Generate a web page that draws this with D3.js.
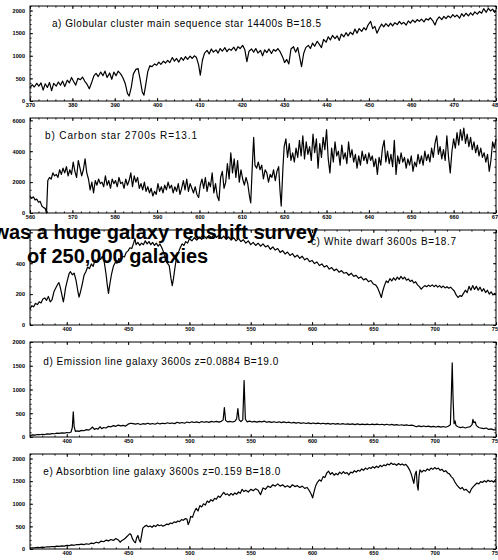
<!DOCTYPE html>
<html>
<head>
<meta charset="utf-8">
<script src="https://cdn.jsdelivr.net/npm/d3@7"></script>
<style>
body { margin: 0; background: #fff; }
svg { display: block; }
</style>
</head>
<body>
<div id="chart"></div>
<script>
// spectra: [wavelength (nm), counts]
var specA = [[370,290],[370.5,360],[371,310],[371.6,390],[372.1,330],[372.6,400],[373.1,240],[373.6,380],[374.1,300],[374.6,410],
  [375.1,230],[375.6,390],[376.2,330],[376.7,420],[377.2,350],[377.7,440],[378.2,320],[378.8,460],[379.3,400],[379.8,520],
  [380.3,430],[380.8,350],[381.3,500],[381.9,470],[382.4,530],[382.9,440],[383.4,380],[384,270],[384.6,420],[385.1,560],
  [385.6,610],[386.1,540],[386.7,640],[387.2,560],[387.7,660],[388.2,520],[388.8,620],[389.3,480],[389.8,640],[390.3,560],
  [390.8,660],[391.4,600],[391.9,520],[392.5,380],[393,170],[393.4,110],[393.9,300],[394.4,600],[395,700],[395.5,720],
  [396,480],[396.5,200],[396.9,130],[397.3,350],[397.8,650],[398.3,780],[398.8,760],[399.4,820],[399.9,790],[400.4,860],
  [400.9,810],[401.5,880],[402,840],[402.5,900],[403,850],[403.6,960],[404.1,880],[404.6,940],[405.1,860],[405.7,960],
  [406.2,900],[406.7,980],[407.2,920],[407.8,990],[408.3,940],[408.8,1000],[409.3,960],[409.8,800],[410.2,570],[410.7,900],
  [411.2,1060],[411.8,1120],[412.3,1040],[412.8,1150],[413.3,1080],[413.9,1130],[414.4,1060],[414.9,1160],[415.4,1100],[416,1180],
  [416.5,1090],[417,1150],[417.5,1120],[418.1,1190],[418.6,1110],[419.1,1200],[419.6,1160],[420.2,1230],[420.7,1140],[421.2,870],
  [421.7,1100],[422.3,1150],[422.8,1080],[423.3,1160],[423.8,1060],[424.4,1120],[424.9,1000],[425.4,1130],[425.9,1070],[426.4,1150],
  [427,1050],[427.5,1140],[428,1100],[428.5,1160],[429.1,1080],[429.6,980],[430.1,850],[430.6,920],[431.1,820],[431.6,1150],
  [432.2,1200],[432.7,1080],[433.2,1180],[433.7,950],[434.1,760],[434.6,1050],[435.1,1180],[435.7,1230],[436.2,1160],[436.7,1280],
  [437.2,1210],[437.8,1320],[438.3,1250],[438.8,1180],[439.3,1360],[439.9,1300],[440.4,1420],[440.9,1350],[441.4,1450],[442,1380],
  [442.5,1440],[443,1340],[443.5,1480],[444.1,1420],[444.6,1510],[445.1,1440],[445.6,1520],[446.2,1470],[446.7,1590],[447.2,1500],
  [447.7,1600],[448.3,1540],[448.8,1620],[449.3,1570],[449.8,1680],[450.4,1760],[450.9,1600],[451.4,1650],[451.9,1500],[452.5,1620],
  [453,1700],[453.5,1640],[454,1710],[454.6,1650],[455.1,1720],[455.6,1660],[456.1,1730],[456.7,1690],[457.2,1760],[457.7,1700],
  [458.2,1740],[458.8,1680],[459.3,1770],[459.8,1720],[460.3,1790],[460.9,1740],[461.4,1800],[461.9,1760],[462.4,1810],[463,1750],
  [463.5,1820],[464,1790],[464.5,1840],[465.1,1770],[465.6,1680],[466.1,1800],[466.6,1860],[467.2,1800],[467.7,1870],[468.2,1820],
  [468.7,1880],[469.3,1840],[469.8,1910],[470.3,1860],[470.8,1900],[471.4,1830],[471.9,1930],[472.4,1870],[472.9,1940],[473.5,1880],
  [474,1950],[474.5,1900],[475,1970],[475.6,1920],[476.1,1980],[476.6,1940],[477.1,2040],[477.7,1960],[478.2,2050],[478.7,1990],
  [479.2,2030],[479.7,1960],[480,2000]];

var specB = [[560,1100],[560.4,950],[560.8,1050],[561.2,850],[561.6,900],[562,700],[562.4,750],[562.8,450],[563.2,350],[563.6,300],
  [563.9,0],[564.2,2100],[564.6,2300],[565,2200],[565.4,2600],[565.8,2400],[566.2,2500],[566.6,2300],[567,2800],[567.4,2500],
  [567.8,2900],[568.2,2600],[568.6,3000],[569,2400],[569.4,2800],[569.8,2500],[570.2,3300],[570.6,2700],[571,2300],[571.4,3400],
  [571.8,2900],[572.2,2400],[572.6,2800],[573,3500],[573.4,2600],[573.8,2200],[574.2,1500],[574.6,2000],[575,1300],[575.4,2100],
  [575.8,1800],[576.2,2200],[576.6,1900],[577,2000],[577.4,1700],[577.8,2400],[578.2,1800],[578.6,2100],[579,1600],[579.4,2200],
  [579.8,1900],[580.2,2100],[580.6,1700],[581,2300],[581.4,1900],[581.8,2000],[582.2,1600],[582.6,2200],[583,1800],[583.4,2100],
  [583.8,2600],[584.2,1700],[584.6,2400],[585,2000],[585.4,2300],[585.8,1600],[586.2,1900],[586.6,1500],[587,2000],[587.4,1400],
  [587.8,1700],[588.2,1300],[588.6,1600],[589,1100],[589.4,1400],[589.8,1200],[590.2,1900],[590.6,1400],[591,1700],[591.4,1300],
  [591.8,1800],[592.2,1500],[592.6,2000],[593,1600],[593.4,1800],[593.8,1300],[594.2,1700],[594.6,1400],[595,1900],[595.4,1200],
  [595.8,1600],[596.2,2100],[596.6,1500],[597,2200],[597.4,1400],[597.8,1900],[598.2,1600],[598.6,1300],[599,1700],[599.4,1200],
  [599.8,1000],[600.2,1800],[600.6,2200],[601,1600],[601.4,2300],[601.8,1400],[602.2,2000],[602.6,1700],[603,2600],[603.4,1300],
  [603.8,1900],[604.2,1100],[604.6,800],[605,2300],[605.4,2700],[605.8,1600],[606.2,2000],[606.6,3200],[607,2200],[607.4,3900],
  [607.8,2600],[608.2,3500],[608.6,2300],[609,3400],[609.4,2000],[609.8,2800],[610.2,2200],[610.6,1800],[611,2300],[611.4,1900],
  [611.8,1100],[612.1,650],[612.5,3200],[612.8,4900],[613.1,3100],[613.5,2900],[613.9,3300],[614.3,2800],[614.7,3100],[615.1,2200],
  [615.5,2800],[615.9,2600],[616.3,2000],[616.7,2500],[617.1,2300],[617.5,2800],[617.9,2100],[618.3,2700],[618.7,3000],[619,1500],
  [619.3,450],[619.7,2900],[620,4300],[620.4,4800],[620.8,3600],[621.2,4500],[621.6,3400],[622,3900],[622.4,3300],[622.8,4200],
  [623.2,3600],[623.6,4700],[624,3700],[624.4,5000],[624.8,3500],[625.2,4600],[625.6,3800],[626,4300],[626.4,3400],[626.8,5100],
  [627.2,3900],[627.6,4800],[628,2900],[628.4,4500],[628.8,3600],[629.2,4900],[629.6,4100],[630,5400],[630.4,3500],[630.8,2600],
  [631.2,4200],[631.6,3300],[632,4600],[632.4,3700],[632.8,4000],[633.2,3100],[633.6,4400],[634,3500],[634.4,3900],[634.8,3200],
  [635.2,4600],[635.6,3600],[636,4100],[636.4,3300],[636.8,3800],[637.2,2900],[637.6,3700],[638,3100],[638.4,4000],[638.8,3400],
  [639.2,3800],[639.6,3200],[640,3900],[640.4,3400],[640.8,3700],[641.2,3000],[641.6,3500],[642,2500],[642.4,3600],[642.8,3100],
  [643.2,4200],[643.6,4700],[644,3300],[644.4,4000],[644.8,3200],[645.2,3800],[645.6,3000],[646,4700],[646.4,2500],[646.8,3700],
  [647.2,3200],[647.6,3900],[648,3300],[648.4,3600],[648.8,2900],[649.2,3500],[649.6,3100],[650,3700],[650.4,2700],[650.8,3300],
  [651.2,3000],[651.6,3800],[652,3200],[652.4,3700],[652.8,3100],[653.2,4000],[653.6,3400],[654,3800],[654.4,3300],[654.8,4200],
  [655.2,3600],[655.6,4500],[656,5000],[656.4,3800],[656.8,4300],[657.2,3500],[657.6,4100],[658,3400],[658.4,5000],[658.8,3600],
  [659.2,2600],[659.6,4000],[660,4800],[660.4,4200],[660.8,5200],[661.2,4400],[661.6,5400],[662,4700],[662.4,5500],[662.8,4500],
  [663.2,5100],[663.6,4300],[664,4900],[664.4,4100],[664.8,4600],[665.2,3900],[665.6,4400],[666,3700],[666.4,4200],[666.8,3600],
  [667.2,3900],[667.6,3300],[668,3800],[668.4,2700],[668.8,3400],[669.2,4600],[669.6,4200],[670,4800]];

var specC = [[370,104],[371.5,125],[373,118],[374.5,140],[376,132],[377.5,150],[379,143],[380.5,168],[382,175],[383.5,160],
  [385,185],[386.5,150],[388,165],[389.5,215],[391,240],[392.5,262],[393.5,275],[394.5,250],[395.5,215],[396.5,175],
  [397.2,150],[398,185],[399,240],[400.5,290],[402,335],[403,345],[404.5,325],[406,335],[407.5,290],[409,220],
  [410,180],[411,210],[412.5,260],[414,320],[415.5,345],[417,375],[418.5,365],[420,395],[421.5,380],[423,420],
  [424.5,410],[426,435],[427.5,425],[429,445],[430.5,410],[432,330],[433,260],[434,205],[435,260],[436.5,330],
  [438,380],[439.5,405],[441,400],[442.5,430],[444,420],[445.5,445],[447,440],[448.5,470],[450,480],[451.5,500],
  [453,495],[454.5,530],[455.6,560],[456.5,520],[458,535],[459.5,515],[461,530],[462.5,520],[464,545],[465.5,525],
  [467,540],[468.5,520],[470,535],[471.5,515],[473,530],[474.5,510],[476,525],[477.5,500],[479,470],[480.5,420],
  [482,400],[483.5,385],[485,300],[486,255],[487,300],[488,360],[489.5,440],[491,470],[492.5,500],[494,525],
  [495.5,515],[497,540],[498.5,530],[500,558],[502,545],[504,565],[506,550],[508,570],[510,555],[512,575],
  [514,560],[516,580],[518,565],[520,585],[522,568],[524,580],[526,560],[528,575],[530,555],[532,570],
  [534,550],[536,565],[538,545],[540,560],[542,540],[544,552],[546,530],[548,545],[550,520],[552,535],
  [554,515],[556,530],[558,510],[560,525],[562,505],[564,515],[566,490],[568,505],[570,485],[572,495],
  [574,470],[576,482],[578,460],[580,472],[582,450],[584,462],[586,440],[588,452],[590,432],[592,445],
  [594,422],[596,432],[598,410],[600,418],[602,398],[604,408],[606,385],[608,395],[610,375],[612,385],
  [614,362],[616,372],[618,352],[620,362],[622,342],[624,352],[626,335],[628,340],[630,322],[632,335],
  [634,315],[636,322],[638,302],[640,312],[642,292],[644,300],[646,280],[648,288],[650,265],[652,258],
  [653.5,240],[655,210],[656.5,178],[657.5,215],[659,255],[660.5,285],[662,275],[663.5,300],[665,285],[666.5,305],
  [668,290],[669.5,310],[671,295],[672.5,315],[674,298],[675.5,310],[677,290],[678.5,298],[680,282],[681.5,290],
  [683,272],[684.5,280],[686,260],[687.5,248],[689,232],[690.5,245],[692,255],[693.5,248],[695,258],[696.5,250],
  [698,260],[699.5,248],[701,258],[702.5,245],[704,255],[705.5,242],[707,252],[708.5,240],[710,248],[711.5,238],
  [713,245],[714.5,232],[716,220],[717.5,195],[719,178],[720.5,190],[722,185],[723.5,205],[725,225],[726.5,210],
  [728,250],[729.5,225],[731,255],[732.5,230],[734,250],[735.5,225],[737,245],[738.5,218],[740,235],[741.5,210],
  [743,225],[744.5,200],[746,215],[747.5,195],[749,205],[750,198]];

var specD = [[370,30],[372,45],[374,38],[376,52],[378,48],[380,58],[382,52],[384,65],[386,60],[388,72],
  [390,68],[392,80],[394,75],[396,88],[398,82],[400,95],[402,90],[403.5,105],[404.5,200],[405.3,530],
  [406,220],[407,120],[408.5,130],[410,118],[412,140],[414,132],[416,155],[418,145],[419.5,175],[421,210],
  [422.5,160],[424,180],[425.5,165],[427,215],[428.5,175],[430,200],[432,190],[434,225],[436,215],[438,240],
  [440,225],[442,250],[444,235],[446,245],[448,230],[450,270],[452,290],[454,280],[456,270],[458,285],
  [460,262],[462,280],[464,270],[466,290],[468,272],[470,285],[472,268],[474,295],[476,275],[478,290],
  [480,280],[482,300],[484,285],[486,295],[488,282],[490,310],[492,292],[494,305],[496,290],[498,315],
  [500,300],[502,320],[504,305],[506,318],[508,300],[510,325],[512,310],[514,322],[516,308],[518,330],
  [520,315],[522,328],[524,312],[526,330],[527.5,360],[528.5,620],[529.5,350],[531,318],[533,330],[535,315],
  [537,330],[538.5,380],[539.5,600],[540.5,360],[542,325],[543.5,360],[544.6,1190],[545.6,380],[547,320],[549,335],
  [551,315],[553,330],[555,312],[557,328],[559,318],[561,335],[563,310],[565,325],[567,308],[569,322],
  [571,305],[573,320],[575,302],[577,318],[579,300],[581,312],[583,295],[585,308],[587,292],[589,305],
  [591,288],[593,300],[595,285],[597,298],[599,282],[601,295],[603,280],[605,292],[607,278],[609,290],
  [611,275],[613,288],[615,272],[617,285],[619,270],[621,282],[623,268],[625,280],[627,268],[629,278],
  [631,265],[633,276],[635,262],[637,275],[639,262],[641,272],[643,260],[645,270],[647,258],[649,270],
  [651,262],[653,272],[655,258],[657,268],[659,255],[661,268],[663,252],[665,265],[667,250],[669,262],
  [671,248],[673,258],[675,245],[677,255],[679,242],[681,250],[683,238],[685,215],[687,235],[689,220],
  [691,232],[693,218],[695,228],[697,212],[699,222],[701,210],[703,225],[705,208],[707,222],[709,205],
  [711,225],[712.8,260],[713.6,900],[714.3,1560],[715,800],[715.8,280],[716.6,340],[717.4,240],[719,215],[721,198],
  [723,210],[725,190],[727,205],[729,220],[730.5,260],[731.2,370],[732,300],[733,320],[734,240],[736,200],
  [738,185],[740,178],[742,190],[744,160],[746,170],[748,150],[750,148]];

var specE = [[370,20],[372,28],[374,24],[376,35],[378,30],[380,42],[382,38],[384,50],[386,45],[388,55],
  [390,52],[392,62],[394,58],[396,70],[398,65],[400,80],[402,75],[404,90],[406,82],[408,100],
  [410,95],[412,108],[414,98],[416,115],[418,105],[420,130],[422,120],[424,150],[426,135],[428,175],
  [430,160],[432,195],[434,180],[436,210],[438,190],[440,230],[442,200],[443.5,150],[445,190],[447,220],
  [448.5,260],[450,300],[451.5,340],[452.5,310],[453.5,230],[455,160],[456,140],[457,250],[458,300],[459,200],
  [460,150],[461,300],[462,460],[463.5,500],[465,525],[466.5,490],[468,510],[469.5,480],[471,520],[472.5,495],
  [474,540],[475.5,515],[477,530],[478.5,505],[480,525],[481.5,550],[483,540],[484.5,575],[486,560],[487.5,600],
  [489,585],[490.5,620],[492,605],[493.5,650],[495,635],[496.5,670],[498,660],[499,540],[500,600],[501,720],
  [502.5,700],[504,820],[505.5,900],[507,840],[508.5,960],[510,930],[511.5,1000],[513,970],[514.5,1060],[516,1030],
  [517.5,1090],[519,1060],[520.5,1120],[522,1100],[523.5,1170],[525,1140],[526.5,1200],[528,1250],[529.5,1200],[531,1220],
  [532.5,1180],[534,1230],[535.5,1190],[537,1240],[538.5,1210],[540,1260],[541.5,1230],[543,1320],[544.5,1270],[546,1300],
  [548,1260],[550,1320],[552,1290],[554,1330],[556,1300],[558,1200],[560,1350],[562,1320],[564,1390],[566,1360],
  [568,1420],[570,1390],[572,1440],[574,1390],[576,1420],[578,1370],[580,1400],[582,1360],[584,1420],[586,1380],
  [588,1400],[590,1360],[592,1390],[594,1340],[596,1360],[598,1280],[599.5,1200],[600.5,1130],[601.5,1250],[603,1400],
  [604.5,1480],[606,1530],[607.5,1500],[609,1600],[610.5,1580],[612,1680],[613.5,1720],[615,1650],[616.5,1690],[618,1630],
  [619.5,1670],[621,1640],[622.5,1700],[624,1660],[625.5,1710],[627,1670],[628.5,1690],[630,1640],[631.5,1700],[633,1680],
  [634.5,1730],[636,1700],[637.5,1740],[639,1720],[640.5,1770],[642,1740],[643.5,1790],[645,1760],[646.5,1800],[648,1780],
  [649.5,1820],[651,1790],[652.5,1830],[654,1800],[655.5,1850],[657,1820],[658.5,1860],[660,1840],[661.5,1880],[663,1860],
  [664.5,1900],[666,1870],[667.5,1880],[669,1850],[670.5,1890],[672,1860],[673.5,1880],[675,1850],[676.5,1870],[678,1820],
  [679.5,1750],[681,1650],[682,1550],[683,1450],[684,1650],[685,1720],[685.8,1400],[686.5,1300],[687.2,1600],[688,1750],
  [689.5,1700],[691,1740],[692.5,1720],[694,1770],[695.5,1740],[697,1790],[698.5,1760],[700,1800],[701.5,1770],[703,1790],
  [704.5,1740],[706,1760],[707.5,1710],[709,1730],[710.5,1680],[712,1660],[713.5,1600],[715,1560],[716.5,1480],[718,1420],
  [719.5,1370],[721,1330],[722.5,1360],[724,1300],[725.5,1320],[727,1280],[728.5,1240],[730,1330],[731.5,1380],[733,1420],
  [734.5,1460],[736,1440],[737.5,1490],[739,1470],[740.5,1510],[742,1480],[743.5,1520],[745,1490],[746.5,1510],[748,1480],
  [749.5,1530],[750,1540]];

// tick values
var xTicksA = [370,380,390,400,410,420,430,440,450,460,470,480];
var xTicksB = [560,570,580,590,600,610,620,630,640,650,660,670];
var xTicksWide = [400,450,500,550,600,650,700,750];
var yTicksA = [0,500,1000,1500,2000];
var yTicksB = [0,2000,4000,6000];
var yTicksC = [0,200,400,600];
var yLabelsC = [0,200,400];
var yTicksD = [0,500,1000,1500,2000];

var titles = [
  "a) Globular cluster main sequence star 14400s B=18.5",
  "b) Carbon star 2700s R=13.1",
  "c) White dwarf 3600s B=18.7",
  "d) Emission line galaxy 3600s z=0.0884 B=19.0",
  "e) Absorbtion line galaxy 3600s z=0.159 B=18.0"
];
var overlay = ["was a huge galaxy redshift survey", "of 250,000 galaxies"];

var w = 498, h = 560;
var left = 30, right = 496, ph = 95;
var tickFont = "'Liberation Sans', Arial, sans-serif";

var svg = d3.select("#chart").append("svg").attr("width", w).attr("height", h);
svg.append("rect").attr("width", w).attr("height", h).attr("fill", "#fff");

var panels = [
  {data: specA, top: 6, xd: [370,480], yd: [0,2100], xt: xTicksA, xm: 2, yt: yTicksA, yl: yTicksA, ym: 100,
   title: titles[0], tx: 52, ty: 26.5, tl: 269},
  {data: specB, top: 118, xd: [560,670], yd: [0,6150], xt: xTicksB, xm: 2, yt: yTicksB, yl: yTicksB, ym: 500,
   title: titles[1], tx: 45, ty: 138.7, tl: 152},
  {data: specC, top: 230, xd: [370,750], yd: [0,615], xt: xTicksWide, xm: 10, yt: yTicksC, yl: yLabelsC, ym: 50,
   title: titles[2], tx: 311, ty: 244.7, tl: 145},
  {data: specD, top: 342, xd: [370,750], yd: [0,2000], xt: xTicksWide, xm: 10, yt: yTicksD, yl: yTicksD, ym: 100,
   title: titles[3], tx: 43.3, ty: 365.3, tl: 235},
  {data: specE, top: 454, xd: [370,750], yd: [0,2100], xt: xTicksWide, xm: 10, yt: yTicksA, yl: yTicksA, ym: 100,
   title: titles[4], tx: 43.3, ty: 474.7, tl: 237}
];

function styleAxis(g) {
  g.select(".domain").remove();
  g.attr("font-family", tickFont).attr("font-size", "5.6px").attr("font-weight", "bold");
  g.selectAll("line").attr("stroke", "#000").attr("stroke-width", 0.9);
}

function drawPanel(p) {
  var x = d3.scaleLinear().domain(p.xd).range([left, right]);
  var y = d3.scaleLinear().domain(p.yd).range([p.top + ph, p.top]);
  var bottom = p.top + ph;
  var g = svg.append("g");

  var xMinor = d3.range(p.xd[0], p.xd[1] + 0.001, p.xm);
  var yMinor = d3.range(p.yd[0], p.yd[1] + 0.001, p.ym);

  // minor ticks, all four sides, pointing in
  g.append("g").attr("transform", "translate(0," + bottom + ")")
    .call(d3.axisBottom(x).tickValues(xMinor).tickSize(-1.6).tickFormat("")).call(styleAxis);
  g.append("g").attr("transform", "translate(0," + p.top + ")")
    .call(d3.axisTop(x).tickValues(xMinor).tickSize(-1.6).tickFormat("")).call(styleAxis);
  g.append("g").attr("transform", "translate(" + left + ",0)")
    .call(d3.axisLeft(y).tickValues(yMinor).tickSize(-1.6).tickFormat("")).call(styleAxis);
  g.append("g").attr("transform", "translate(" + right + ",0)")
    .call(d3.axisRight(y).tickValues(yMinor).tickSize(-1.6).tickFormat("")).call(styleAxis);

  // major ticks
  g.append("g").attr("transform", "translate(0," + bottom + ")")
    .call(d3.axisBottom(x).tickValues(p.xt).tickSize(-3).tickPadding(2).tickFormat(d3.format("d"))).call(styleAxis);
  g.append("g").attr("transform", "translate(0," + p.top + ")")
    .call(d3.axisTop(x).tickValues(p.xt).tickSize(-3).tickFormat("")).call(styleAxis);
  g.append("g").attr("transform", "translate(" + left + ",0)")
    .call(d3.axisLeft(y).tickValues(p.yt).tickSize(-3).tickPadding(5)
      .tickFormat(function(d) { return p.yl.indexOf(d) >= 0 ? d : ""; })).call(styleAxis);
  g.append("g").attr("transform", "translate(" + right + ",0)")
    .call(d3.axisRight(y).tickValues(p.yt).tickSize(-3).tickFormat("")).call(styleAxis);

  g.append("rect")
    .attr("x", left).attr("y", p.top)
    .attr("width", right - left).attr("height", ph)
    .attr("fill", "none").attr("stroke", "#000").attr("stroke-width", 1);

  var line = d3.line()
    .x(function(d) { return x(d[0]); })
    .y(function(d) { return y(d[1]); });

  g.append("path")
    .datum(p.data)
    .attr("d", line)
    .attr("fill", "none")
    .attr("stroke", "#000")
    .attr("stroke-width", 1.2)
    .attr("stroke-linejoin", "round");

  g.append("text")
    .attr("x", p.tx).attr("y", p.ty)
    .attr("textLength", p.tl).attr("lengthAdjust", "spacing")
    .attr("font-family", tickFont).attr("font-size", "10px")
    .attr("fill", "#000")
    .text(p.title);
}

panels.forEach(drawPanel);

// caption laid over the third panel
svg.append("text")
  .attr("x", 318).attr("y", 238.5)
  .attr("text-anchor", "end")
  .attr("font-family", "'Liberation Sans', Arial, sans-serif")
  .attr("font-size", "20px").attr("font-weight", "bold")
  .attr("fill", "#000")
  .text(overlay[0]);
svg.append("text")
  .attr("x", 27).attr("y", 262.5)
  .attr("font-family", "'Liberation Sans', Arial, sans-serif")
  .attr("font-size", "20px").attr("font-weight", "bold")
  .attr("fill", "#000")
  .text(overlay[1]);
</script>
</body>
</html>
